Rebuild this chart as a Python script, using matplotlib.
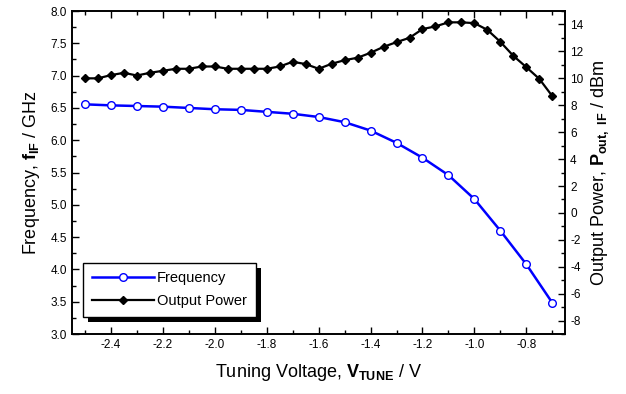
"""
Frequency and output power vs tuning voltage
"""
import matplotlib
matplotlib.use("Agg")
import matplotlib.pyplot as plt
from matplotlib.ticker import MultipleLocator
from matplotlib.patches import Rectangle

plt.rcParams['font.family'] = ['Liberation Sans', 'DejaVu Sans']
plt.rcParams['mathtext.fontset'] = 'custom'
plt.rcParams['mathtext.rm'] = 'Liberation Sans'
plt.rcParams['mathtext.bf'] = 'Liberation Sans:bold'
plt.rcParams['axes.unicode_minus'] = False

# tuning voltage (V)
v_freq = [-2.5, -2.4, -2.3, -2.2, -2.1, -2.0, -1.9, -1.8, -1.7, -1.6,
          -1.5, -1.4, -1.3, -1.2, -1.1, -1.0, -0.9, -0.8, -0.7]
freq = [6.556, 6.54, 6.53, 6.52, 6.50, 6.48, 6.47, 6.44, 6.41, 6.36,
        6.28, 6.15, 5.96, 5.73, 5.46, 5.09, 4.60, 4.08, 3.485]

v_pow = [-2.5, -2.45, -2.4, -2.35, -2.3, -2.25, -2.2, -2.15, -2.1, -2.05,
         -2.0, -1.95, -1.9, -1.85, -1.8, -1.75, -1.7, -1.65, -1.6, -1.55,
         -1.5, -1.45, -1.4, -1.35, -1.3, -1.25, -1.2, -1.15, -1.1, -1.05,
         -1.0, -0.95, -0.9, -0.85, -0.8, -0.75, -0.7]
power = [10.0, 10.0, 10.24, 10.41, 10.21, 10.41, 10.56, 10.71, 10.71, 10.88,
         10.88, 10.71, 10.71, 10.71, 10.71, 10.88, 11.23, 11.06, 10.71, 11.08,
         11.35, 11.53, 11.9, 12.34, 12.69, 13.01, 13.66, 13.86, 14.16, 14.16,
         14.1, 13.6, 12.71, 11.67, 10.83, 9.96, 8.68]

fig, ax = plt.subplots(figsize=(6.26, 3.94), dpi=100)
fig.subplots_adjust(left=0.115, right=0.903, top=0.972, bottom=0.152)
ax2 = ax.twinx()

l1, = ax.plot(v_freq, freq, color="#0000ff", lw=1.8, marker="o", ms=5.5,
              mfc="white", mec="#0000ff", mew=1.0, label="Frequency")
l2, = ax2.plot(v_pow, power, color="black", lw=1.6, marker="D", ms=4.5,
               mfc="black", mec="black", label="Output Power")

ax.set_xlim(-2.55, -0.65)
ax.set_ylim(3.0, 8.0)
ax2.set_ylim(-9, 15)

ax.xaxis.set_major_locator(MultipleLocator(0.2))
ax.xaxis.set_minor_locator(MultipleLocator(0.1))
ax.yaxis.set_major_locator(MultipleLocator(0.5))
ax.yaxis.set_minor_locator(MultipleLocator(0.25))
ax2.yaxis.set_major_locator(MultipleLocator(2))
ax2.yaxis.set_minor_locator(MultipleLocator(1))
ax.xaxis.set_major_formatter(plt.FuncFormatter(lambda v, p: "%.1f" % v))
ax.yaxis.set_major_formatter(plt.FuncFormatter(lambda v, p: "%.1f" % v))

ax.tick_params(which="both", direction="in", top=True, labelsize=8.5, width=1.0)
ax.tick_params(which="major", length=5)
ax.tick_params(which="minor", length=3)
ax2.tick_params(which="both", direction="in", labelsize=8.5, width=1.0)
ax2.tick_params(which="major", length=5)
ax2.tick_params(which="minor", length=3)
for a in (ax, ax2):
    for s in a.spines.values():
        s.set_linewidth(1.2)

ax.set_xlabel(r"Tuning Voltage, $\mathbf{V}_{\mathbf{TUNE}}$ / V", fontsize=13, labelpad=8)
ax.set_ylabel(r"Frequency, $\mathbf{f}_{\mathbf{IF}}$ / GHz", fontsize=13, labelpad=6)
ax2.set_ylabel(r"Output Power, $\mathbf{P}_{\mathbf{out,\ IF}}$ / dBm", fontsize=13, labelpad=4)

# legend with drop shadow
leg = ax.legend(handles=[l1, l2], loc="lower left", bbox_to_anchor=(0.022, 0.053),
                borderaxespad=0, fontsize=10.5, fancybox=False, edgecolor="black",
                framealpha=1, handlelength=4.3, borderpad=0.6, labelspacing=0.6,
                handletextpad=0.2)
leg.get_frame().set_linewidth(1.0)
leg.set_zorder(5)
fig.canvas.draw()
bb = leg.get_window_extent().transformed(ax.transAxes.inverted())
shadow = Rectangle((bb.x0 + 0.011, bb.y0 - 0.017), bb.width, bb.height,
                   transform=ax.transAxes, facecolor="black", zorder=4)
ax.add_patch(shadow)

fig.savefig("out.png", dpi=100)
